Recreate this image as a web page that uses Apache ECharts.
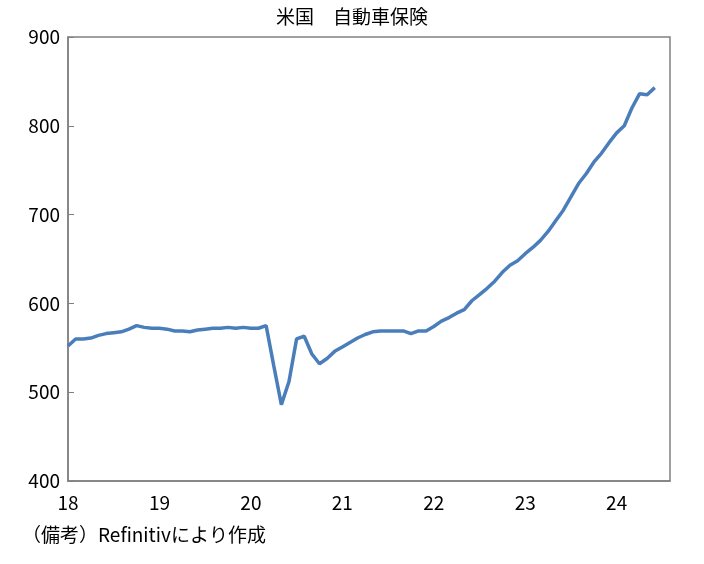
<!DOCTYPE html>
<html>
<head>
<meta charset="utf-8">
<script src="https://cdn.jsdelivr.net/npm/echarts@6/dist/echarts.min.js"></script>
<style>
html, body { margin: 0; padding: 0; background: #fff; }
#chart { width: 704px; height: 564px; }
</style>
</head>
<body>
<div id="chart"></div>
<script>
// 月次 2018年1月〜2024年8月（軸の範囲）、データは2024年6月まで
var years = ['18', '19', '20', '21', '22', '23', '24'];
var insurance = [
	552, 560, 560, 561, 564, 566, 567, 568, 571, 575, 573, 572,
	572, 571, 569, 569, 568, 570, 571, 572, 572, 573, 572, 573,
	572, 572, 575, 530, 486, 512, 560, 563, 543, 532, 538, 546,
	551, 556, 561, 565, 568, 569, 569, 569, 569, 566, 569, 569,
	574, 580, 584, 589, 593, 603, 610, 617, 625, 635, 643, 648,
	656, 663, 671, 681, 693, 705, 720, 735, 746, 759, 769, 781,
	792, 800, 820, 836, 835, 843
];
var yTicks = [400, 500, 600, 700, 800, 900];

var months = [];
for (var i = 0; i < 80; i++) {
	months.push(i % 12 === 0 ? years[i / 12] : '');
}

var font = '"Noto Sans CJK JP", sans-serif';
var chart = echarts.init(document.getElementById('chart'));
chart.setOption({
	backgroundColor: '#ffffff',
	animation: false,
	title: {
		text: '米国　自動車保険',
		left: 'center',
		top: 2,
		textStyle: { fontFamily: font, fontSize: 19, fontWeight: 'normal', color: '#000' }
	},
	graphic: [{
		type: 'text',
		left: 22,
		top: 525,
		style: { text: '（備考）Refinitivにより作成', font: '19px ' + font, fill: '#000' }
	}],
	grid: { left: 68, right: 34, top: 37, bottom: 83, show: true, borderColor: '#808080', borderWidth: 1.5 },
	xAxis: {
		type: 'category',
		data: months,
		boundaryGap: false,
		axisLine: { lineStyle: { color: '#808080', width: 1.5 } },
		axisTick: { show: false },
		axisLabel: { interval: 0, color: '#000', fontFamily: font, fontSize: 19, margin: 12 },
		splitLine: { show: false }
	},
	yAxis: {
		type: 'value',
		min: yTicks[0],
		max: yTicks[yTicks.length - 1],
		interval: 100,
		axisLine: { show: true, lineStyle: { color: '#808080', width: 1.5 } },
		axisTick: { show: true, inside: true, length: 6, lineStyle: { color: '#808080' } },
		axisLabel: { color: '#000', fontFamily: font, fontSize: 19, margin: 8 },
		splitLine: { show: false }
	},
	series: [{
		type: 'line',
		data: insurance,
		showSymbol: false,
		lineStyle: { color: '#4a7ebb', width: 3.5 },
		itemStyle: { color: '#4a7ebb' }
	}]
});
</script>
</body>
</html>
